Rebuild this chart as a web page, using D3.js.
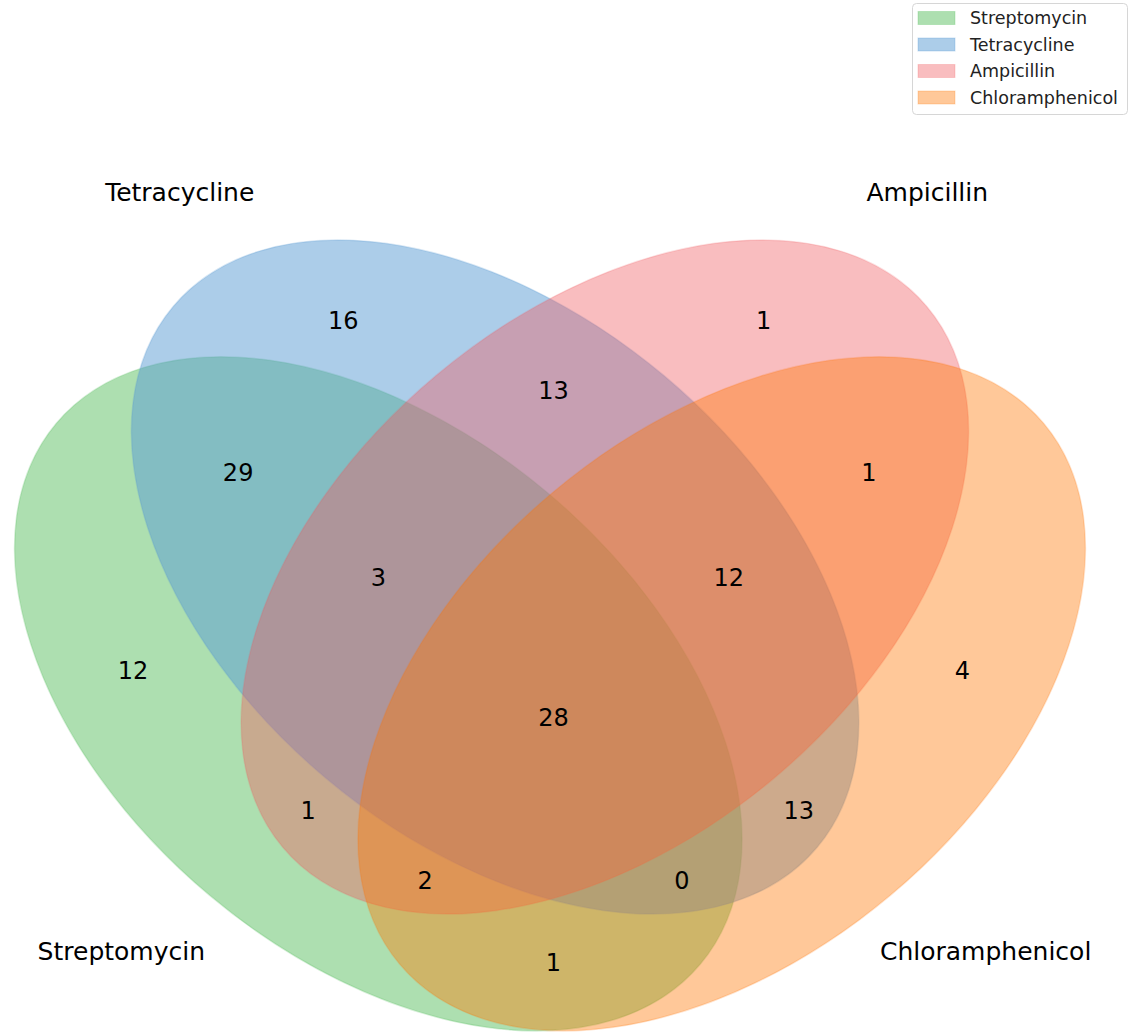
<!DOCTYPE html>
<html>
<head>
<meta charset="utf-8">
<script src="https://cdn.jsdelivr.net/npm/d3@7"></script>
<style>
  body { margin: 0; background: #fff; }
  text { font-family: 'DejaVu Sans', sans-serif; }
</style>
</head>
<body>
<div id="venn"></div>
<script>
// sets, in the order of the region keys (1000 = first set only)
var setNames = ['Streptomycin', 'Tetracycline', 'Ampicillin', 'Chloramphenicol']
var setColors = ['rgb(92,192,98)', 'rgb(90,155,212)', 'rgb(241,90,96)', 'rgb(255,117,0)']
var setAlpha = [0.5, 0.5, 0.4, 0.4]

// region counts
var regionKeys = ['0001', '0010', '0011', '0100', '0101', '0110', '0111', '1000',
  '1001', '1010', '1011', '1100', '1101', '1110', '1111']
var regionCounts = [4, 1, 1, 16, 13, 13, 12, 12, 1, 1, 2, 29, 0, 3, 28]

;(function () {
  var WIDTH = 1135
  var HEIGHT = 1034

  // layout of the four-ellipse venn, in unit coordinates
  var ELLIPSES = [
    { x: 0.350, y: 0.400, w: 0.72, h: 0.45, angle: 140 },
    { x: 0.450, y: 0.500, w: 0.72, h: 0.45, angle: 140 },
    { x: 0.544, y: 0.500, w: 0.72, h: 0.45, angle: 40 },
    { x: 0.644, y: 0.400, w: 0.72, h: 0.45, angle: 40 }
  ]
  var SPOTS = {
    '0001': [0.85, 0.42], '0010': [0.68, 0.72], '0011': [0.77, 0.59],
    '0100': [0.32, 0.72], '0101': [0.71, 0.30], '0110': [0.50, 0.66],
    '0111': [0.65, 0.50], '1000': [0.14, 0.42], '1001': [0.50, 0.17],
    '1010': [0.29, 0.30], '1011': [0.39, 0.24], '1100': [0.23, 0.59],
    '1101': [0.61, 0.24], '1110': [0.35, 0.50], '1111': [0.50, 0.38]
  }
  var NAME_SPOTS = [[0.13, 0.18], [0.18, 0.83], [0.82, 0.83], [0.87, 0.18]]

  var x = d3.scaleLinear().domain([0, 1]).range([-30.5, 1137.5])
  var y = d3.scaleLinear().domain([0, 1]).range([1161, -7])

  var svg = d3.select('#venn').append('svg')
    .attr('width', WIDTH)
    .attr('height', HEIGHT)

  // ellipses
  svg.append('g').selectAll('ellipse')
    .data(ELLIPSES)
    .enter().append('ellipse')
    .attr('cx', function (d) { return x(d.x) })
    .attr('cy', function (d) { return y(d.y) })
    .attr('rx', function (d) { return (x(d.w) - x(0)) / 2 })
    .attr('ry', function (d) { return (x(d.h) - x(0)) / 2 })
    .attr('transform', function (d) {
      return 'rotate(' + (-d.angle) + ',' + x(d.x) + ',' + y(d.y) + ')'
    })
    .attr('fill', function (d, i) { return setColors[i] })
    .attr('fill-opacity', function (d, i) { return setAlpha[i] })
    .attr('stroke', function (d, i) { return setColors[i] })
    .attr('stroke-opacity', function (d, i) { return setAlpha[i] * 0.5 })
    .attr('stroke-width', 1.5)

  // counts
  svg.append('g').selectAll('text')
    .data(regionKeys)
    .enter().append('text')
    .attr('x', function (k) { return x(SPOTS[k][0]) })
    .attr('y', function (k) { return y(SPOTS[k][1]) })
    .attr('dy', '0.36em')
    .attr('text-anchor', 'middle')
    .attr('font-size', 24)
    .attr('fill', '#000')
    .text(function (k, i) { return regionCounts[i] })

  // set names
  svg.append('g').selectAll('text')
    .data(setNames)
    .enter().append('text')
    .attr('x', function (d, i) { return x(NAME_SPOTS[i][0]) })
    .attr('y', function (d, i) { return y(NAME_SPOTS[i][1]) })
    .attr('dy', '0.36em')
    .attr('text-anchor', 'middle')
    .attr('font-size', 25)
    .attr('fill', '#000')
    .text(function (d) { return d })

  // legend
  var legend = svg.append('g').attr('transform', 'translate(912,3)')
  legend.append('rect')
    .attr('x', 0.5).attr('y', 0.5)
    .attr('width', 215).attr('height', 111)
    .attr('rx', 4)
    .attr('fill', '#fff')
    .attr('fill-opacity', 0.8)
    .attr('stroke', '#d6d6d6')

  var rows = legend.selectAll('g.row')
    .data(setNames)
    .enter().append('g')
    .attr('class', 'row')
    .attr('transform', function (d, i) { return 'translate(0,' + (15 + i * 26.5) + ')' })

  rows.append('rect')
    .attr('x', 6).attr('y', -6.5)
    .attr('width', 37).attr('height', 13)
    .attr('fill', function (d, i) { return setColors[i] })
    .attr('fill-opacity', function (d, i) { return setAlpha[i] })
    .attr('stroke', function (d, i) { return setColors[i] })
    .attr('stroke-opacity', function (d, i) { return setAlpha[i] * 0.6 })

  rows.append('text')
    .attr('x', 58)
    .attr('dy', '0.36em')
    .attr('font-size', 17.5)
    .attr('fill', '#222')
    .text(function (d) { return d })
})()
</script>
</body>
</html>
